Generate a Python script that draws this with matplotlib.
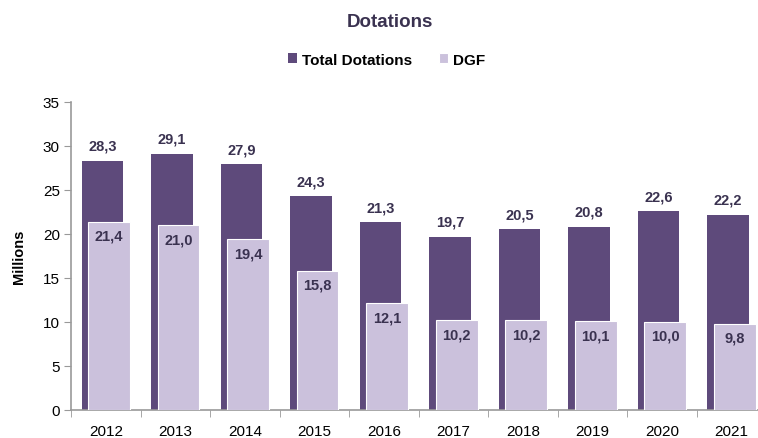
import matplotlib.pyplot as plt
import numpy as np

years = ["2012", "2013", "2014", "2015", "2016", "2017", "2018", "2019", "2020", "2021"]
total = [28.3, 29.1, 27.9, 24.3, 21.3, 19.7, 20.5, 20.8, 22.6, 22.2]
dgf = [21.4, 21.0, 19.4, 15.8, 12.1, 10.2, 10.2, 10.1, 10.0, 9.8]

dark = "#5E4A7B"
light = "#CBC1DC"
txt = "#3A3250"

plt.rcParams['font.family'] = ['Liberation Sans', 'DejaVu Sans']

fig = plt.figure(figsize=(7.58, 4.39), dpi=100)
ax = fig.add_axes([0.0937, 0.0638, 0.917, 0.702])

x = np.arange(len(years))
w = 0.6
off = 0.048
ax.bar(x - off, total, w, color=dark, label="Total Dotations", zorder=2)
ax.bar(x + off, dgf, w, color=light, edgecolor="white", linewidth=0.8, label="DGF", zorder=3)

for i in range(len(years)):
    ax.text(x[i] - off, total[i] + 0.9, f"{total[i]:.1f}".replace(".", ","),
            ha="center", va="bottom", fontsize=10.5, fontweight="bold", color=txt)
    ax.text(x[i] + off, dgf[i] - 0.8, f"{dgf[i]:.1f}".replace(".", ","),
            ha="center", va="top", fontsize=10.5, fontweight="bold", color=txt, zorder=4)

ax.set_xlim(-0.5, len(years) - 0.5)
ax.set_ylim(0, 35)
ax.set_yticks(range(0, 36, 5))
ax.set_xticks(x)
ax.set_xticklabels(years)
ax.set_xticks(np.arange(-0.5, len(years), 1), minor=True)
ax.tick_params(axis="x", which="major", length=0, labelsize=11, pad=10)
ax.tick_params(axis="x", which="minor", length=5, color="#999999", direction="out")
ax.tick_params(axis="y", length=5, color="#999999", labelsize=11, pad=3)
for s in ["top", "right"]:
    ax.spines[s].set_visible(False)
ax.spines["left"].set_color("#999999")
ax.spines["bottom"].set_color("#999999")
ax.spines["left"].set_linewidth(1.2)
ax.spines["bottom"].set_linewidth(1.2)

ax.set_ylabel("Millions", fontsize=10.5, fontweight="bold", labelpad=12)
fig.text(0.515, 0.948, "Dotations", ha="center", va="center", fontsize=13.5, fontweight="bold", color=txt)
fig.legend(loc="center", bbox_to_anchor=(0.51, 0.862), ncol=2, frameon=False,
           handlelength=0.6, handleheight=0.6, handletextpad=0.3, columnspacing=1.8,
           prop={"weight": "bold", "size": 11})

fig.savefig("out.png", dpi=100)
